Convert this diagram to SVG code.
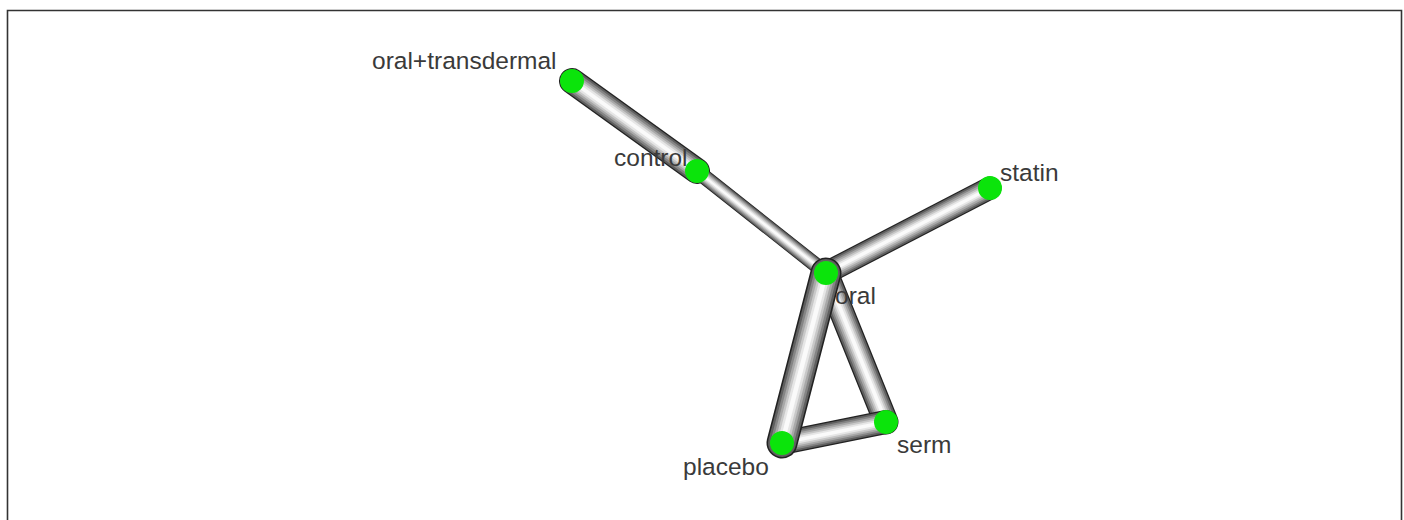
<svg xmlns="http://www.w3.org/2000/svg" width="1404" height="520" viewBox="0 0 1404 520">
<style>
.frame{fill:none;stroke:#333;stroke-width:1.6}
.t line{stroke-linecap:round}
.k1{stroke:#222}.k2{stroke:#5e5e5e}.k3{stroke:#858585}.k4{stroke:#a8a8a8}.k5{stroke:#c8c8c8}.k6{stroke:#e6e6e6}.k7{stroke:#fafafa}
.node circle{fill:#0be40b}
.lbl{font-family:"Liberation Sans",Arial,sans-serif;font-size:24.5px;fill:#3a3a3a}
</style>
<defs>
<filter id="soft" x="-5%" y="-5%" width="110%" height="110%"><feGaussianBlur stdDeviation="0.7"/></filter>
</defs>
<rect width="1404" height="520" fill="#fff"/>
<path class="frame" d="M7.5,520 V10.5 H1401.5 V520"/>
<g id="connectors" class="t" filter="url(#soft)">
<g id="e-ot-control">
<line x1="572" y1="81" x2="697" y2="171" class="k1" stroke-width="26"/>
<line x1="572" y1="81" x2="697" y2="171" class="k2" stroke-width="23.4"/>
<line x1="572" y1="81" x2="697" y2="171" class="k3" stroke-width="19.5"/>
<line x1="572" y1="81" x2="697" y2="171" class="k4" stroke-width="15.6"/>
<line x1="572" y1="81" x2="697" y2="171" class="k5" stroke-width="11.7"/>
<line x1="572" y1="81" x2="697" y2="171" class="k6" stroke-width="7.8"/>
<line x1="572" y1="81" x2="697" y2="171" class="k7" stroke-width="3.9"/>
</g>
<g id="e-control-oral">
<line x1="697" y1="171" x2="826" y2="273" class="k1" stroke-width="15"/>
<line x1="697" y1="171" x2="826" y2="273" class="k2" stroke-width="13.5"/>
<line x1="697" y1="171" x2="826" y2="273" class="k3" stroke-width="11.2"/>
<line x1="697" y1="171" x2="826" y2="273" class="k4" stroke-width="9"/>
<line x1="697" y1="171" x2="826" y2="273" class="k5" stroke-width="6.7"/>
<line x1="697" y1="171" x2="826" y2="273" class="k6" stroke-width="4.5"/>
<line x1="697" y1="171" x2="826" y2="273" class="k7" stroke-width="2.2"/>
</g>
<g id="e-oral-statin">
<line x1="826" y1="273" x2="990" y2="188" class="k1" stroke-width="23"/>
<line x1="826" y1="273" x2="990" y2="188" class="k2" stroke-width="20.7"/>
<line x1="826" y1="273" x2="990" y2="188" class="k3" stroke-width="17.2"/>
<line x1="826" y1="273" x2="990" y2="188" class="k4" stroke-width="13.8"/>
<line x1="826" y1="273" x2="990" y2="188" class="k5" stroke-width="10.3"/>
<line x1="826" y1="273" x2="990" y2="188" class="k6" stroke-width="6.9"/>
<line x1="826" y1="273" x2="990" y2="188" class="k7" stroke-width="3.4"/>
</g>
<g id="e-oral-serm">
<line x1="826" y1="273" x2="886" y2="422" class="k1" stroke-width="25"/>
<line x1="826" y1="273" x2="886" y2="422" class="k2" stroke-width="22.5"/>
<line x1="826" y1="273" x2="886" y2="422" class="k3" stroke-width="18.7"/>
<line x1="826" y1="273" x2="886" y2="422" class="k4" stroke-width="15"/>
<line x1="826" y1="273" x2="886" y2="422" class="k5" stroke-width="11.2"/>
<line x1="826" y1="273" x2="886" y2="422" class="k6" stroke-width="7.5"/>
<line x1="826" y1="273" x2="886" y2="422" class="k7" stroke-width="3.7"/>
</g>
<g id="e-placebo-serm">
<line x1="782" y1="443" x2="886" y2="422" class="k1" stroke-width="24"/>
<line x1="782" y1="443" x2="886" y2="422" class="k2" stroke-width="21.6"/>
<line x1="782" y1="443" x2="886" y2="422" class="k3" stroke-width="18"/>
<line x1="782" y1="443" x2="886" y2="422" class="k4" stroke-width="14.4"/>
<line x1="782" y1="443" x2="886" y2="422" class="k5" stroke-width="10.8"/>
<line x1="782" y1="443" x2="886" y2="422" class="k6" stroke-width="7.2"/>
<line x1="782" y1="443" x2="886" y2="422" class="k7" stroke-width="3.6"/>
</g>
<g id="e-oral-placebo">
<line x1="826" y1="273" x2="782" y2="443" class="k1" stroke-width="31"/>
<line x1="826" y1="273" x2="782" y2="443" class="k2" stroke-width="27.9"/>
<line x1="826" y1="273" x2="782" y2="443" class="k3" stroke-width="23.2"/>
<line x1="826" y1="273" x2="782" y2="443" class="k4" stroke-width="18.6"/>
<line x1="826" y1="273" x2="782" y2="443" class="k5" stroke-width="13.9"/>
<line x1="826" y1="273" x2="782" y2="443" class="k6" stroke-width="9.3"/>
<line x1="826" y1="273" x2="782" y2="443" class="k7" stroke-width="4.6"/>
</g>
</g>
<g id="node-oral-transdermal" class="node"><circle cx="572" cy="81" r="12"/><text class="lbl" x="372" y="69">oral+transdermal</text></g>
<g id="node-control" class="node"><circle cx="697" cy="171" r="12"/><text class="lbl" x="614" y="166">control</text></g>
<g id="node-statin" class="node"><circle cx="990" cy="188" r="12"/><text class="lbl" x="1000" y="181">statin</text></g>
<g id="node-oral" class="node"><circle cx="826" cy="273" r="12"/><text class="lbl" x="835" y="304">oral</text></g>
<g id="node-placebo" class="node"><circle cx="782" cy="443" r="12"/><text class="lbl" x="683" y="475">placebo</text></g>
<g id="node-serm" class="node"><circle cx="886" cy="422" r="12"/><text class="lbl" x="897" y="453">serm</text></g>
</svg>
